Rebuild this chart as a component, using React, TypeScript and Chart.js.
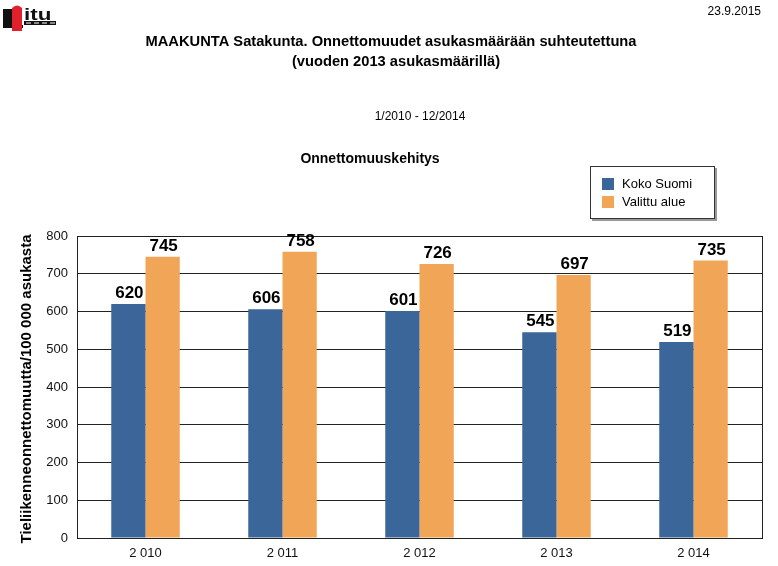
import React, { useEffect, useRef } from "react";
import { Chart, registerables } from "chart.js";

Chart.register(...registerables);

const categories = ["2 010", "2 011", "2 012", "2 013", "2 014"];
const kokoSuomi = [620, 606, 601, 545, 519];
const valittuAlue = [745, 758, 726, 697, 735];
const seriesNames = ["Koko Suomi", "Valittu alue"];
const yTicks = [0, 100, 200, 300, 400, 500, 600, 700, 800];

const BLUE = "#3B6699";
const ORANGE = "#F0A656";
const FONT = "'Liberation Sans', Arial, sans-serif";

const overlay = {
  id: "overlay",
  afterDraw(chart: any) {
    const ctx = chart.ctx;
    const a = chart.chartArea;
    ctx.save();
    // plot border
    ctx.strokeStyle = "#222";
    ctx.lineWidth = 1;
    ctx.strokeRect(Math.round(a.left) + 0.5, Math.round(a.top) + 0.5, Math.round(a.right - a.left), Math.round(a.bottom - a.top));

    // value labels
    ctx.fillStyle = "#000";
    ctx.font = `bold 17px ${FONT}`;
    ctx.textAlign = "center";
    ctx.textBaseline = "alphabetic";
    chart.data.datasets.forEach((ds: any, i: number) => {
      const meta = chart.getDatasetMeta(i);
      meta.data.forEach((bar: any, j: number) => {
        ctx.fillText(String(ds.data[j]), bar.x + 1, bar.y - 6);
      });
    });

    // titles
    ctx.font = `bold 14.7px ${FONT}`;
    ctx.fillText("MAAKUNTA Satakunta. Onnettomuudet asukasmäärään suhteutettuna", 391, 46);
    ctx.fillText("(vuoden 2013 asukasmäärillä)", 396, 66);
    ctx.font = `12px ${FONT}`;
    ctx.fillText("1/2010 - 12/2014", 420, 120);
    ctx.font = `bold 14px ${FONT}`;
    ctx.fillText("Onnettomuuskehitys", 370, 163);
    ctx.font = `12px ${FONT}`;
    ctx.textAlign = "right";
    ctx.fillText("23.9.2015", 761, 15);

    // y title
    ctx.save();
    ctx.translate(27, 389);
    ctx.rotate(-Math.PI / 2);
    ctx.textAlign = "center";
    ctx.textBaseline = "middle";
    ctx.font = `bold 15px ${FONT}`;
    ctx.fillText("Tieliikenneonnettomuutta/100 000 asukasta", 0, 0);
    ctx.restore();

    // legend
    ctx.fillStyle = "#999";
    ctx.fillRect(592, 168, 125, 53);
    ctx.fillStyle = "#fff";
    ctx.fillRect(590, 166, 125, 53);
    ctx.strokeStyle = "#333";
    ctx.strokeRect(590.5, 166.5, 124, 52);
    const colors = [BLUE, ORANGE];
    seriesNames.forEach((n, i) => {
      const y = 178 + i * 18;
      ctx.fillStyle = colors[i];
      ctx.fillRect(602, y, 12, 12);
      ctx.fillStyle = "#000";
      ctx.font = `13px ${FONT}`;
      ctx.textAlign = "left";
      ctx.textBaseline = "middle";
      ctx.fillText(n, 622, y + 6);
    });

    // logo
    ctx.fillStyle = "#111";
    ctx.fillRect(3, 9, 9, 16);
    ctx.fillRect(3, 25, 20, 3);
    ctx.fillStyle = "#e0202a";
    ctx.beginPath();
    ctx.moveTo(12, 31);
    ctx.lineTo(12, 8);
    ctx.quadraticCurveTo(17, 3, 22, 8);
    ctx.lineTo(22, 31);
    ctx.closePath();
    ctx.fill();
    ctx.fillStyle = "#111";
    ctx.fillRect(24, 21, 32, 4);
    ctx.fillStyle = "#fff";
    for (let k = 0; k < 4; k++) ctx.fillRect(26 + k * 8, 22.5, 5, 1);
    ctx.fillStyle = "#111";
    ctx.save();
    ctx.translate(24, 20);
    ctx.scale(1.4, 1);
    ctx.font = `bold 16px ${FONT}`;
    ctx.textAlign = "left";
    ctx.textBaseline = "alphabetic";
    ctx.fillText("itu", 0, 0);
    ctx.restore();
    ctx.restore();
  },
};

export default function App() {
  const ref = useRef<HTMLCanvasElement>(null);
  useEffect(() => {
    if (!ref.current) return;
    const chart = new Chart(ref.current, {
      type: "bar",
      data: {
        labels: categories,
        datasets: [
          { label: seriesNames[0], data: kokoSuomi, backgroundColor: BLUE, barPercentage: 1, categoryPercentage: 0.5 },
          { label: seriesNames[1], data: valittuAlue, backgroundColor: ORANGE, barPercentage: 1, categoryPercentage: 0.5 },
        ],
      },
      options: {
        animation: false,
        responsive: false,
        maintainAspectRatio: false,
        layout: { padding: { left: 0, right: 16, top: 236, bottom: 0 } },
        plugins: { legend: { display: false }, tooltip: { enabled: false }, title: { display: false } },
        scales: {
          x: {
            grid: { display: false, drawTicks: false },
            border: { color: "#222" },
            ticks: { color: "#111", font: { family: FONT, size: 13 }, padding: 8 },
            afterFit: (s: any) => { s.height = 28; },
          },
          y: {
            min: 0,
            max: 800,
            afterBuildTicks: (s: any) => { s.ticks = yTicks.map((v) => ({ value: v })); },
            grid: { color: "#222", drawTicks: false },
            border: { color: "#222" },
            ticks: { color: "#111", font: { family: FONT, size: 13 }, padding: 9 },
            afterFit: (s: any) => { s.width = 77; },
          },
        },
      },
      plugins: [overlay],
    });
    return () => chart.destroy();
  }, []);
  return (
    <div style={{ position: "fixed", left: 0, top: 0, width: 778, height: 566, background: "#fff" }}>
      <canvas ref={ref} width={778} height={566} style={{ width: 778, height: 566 }} />
    </div>
  );
}
